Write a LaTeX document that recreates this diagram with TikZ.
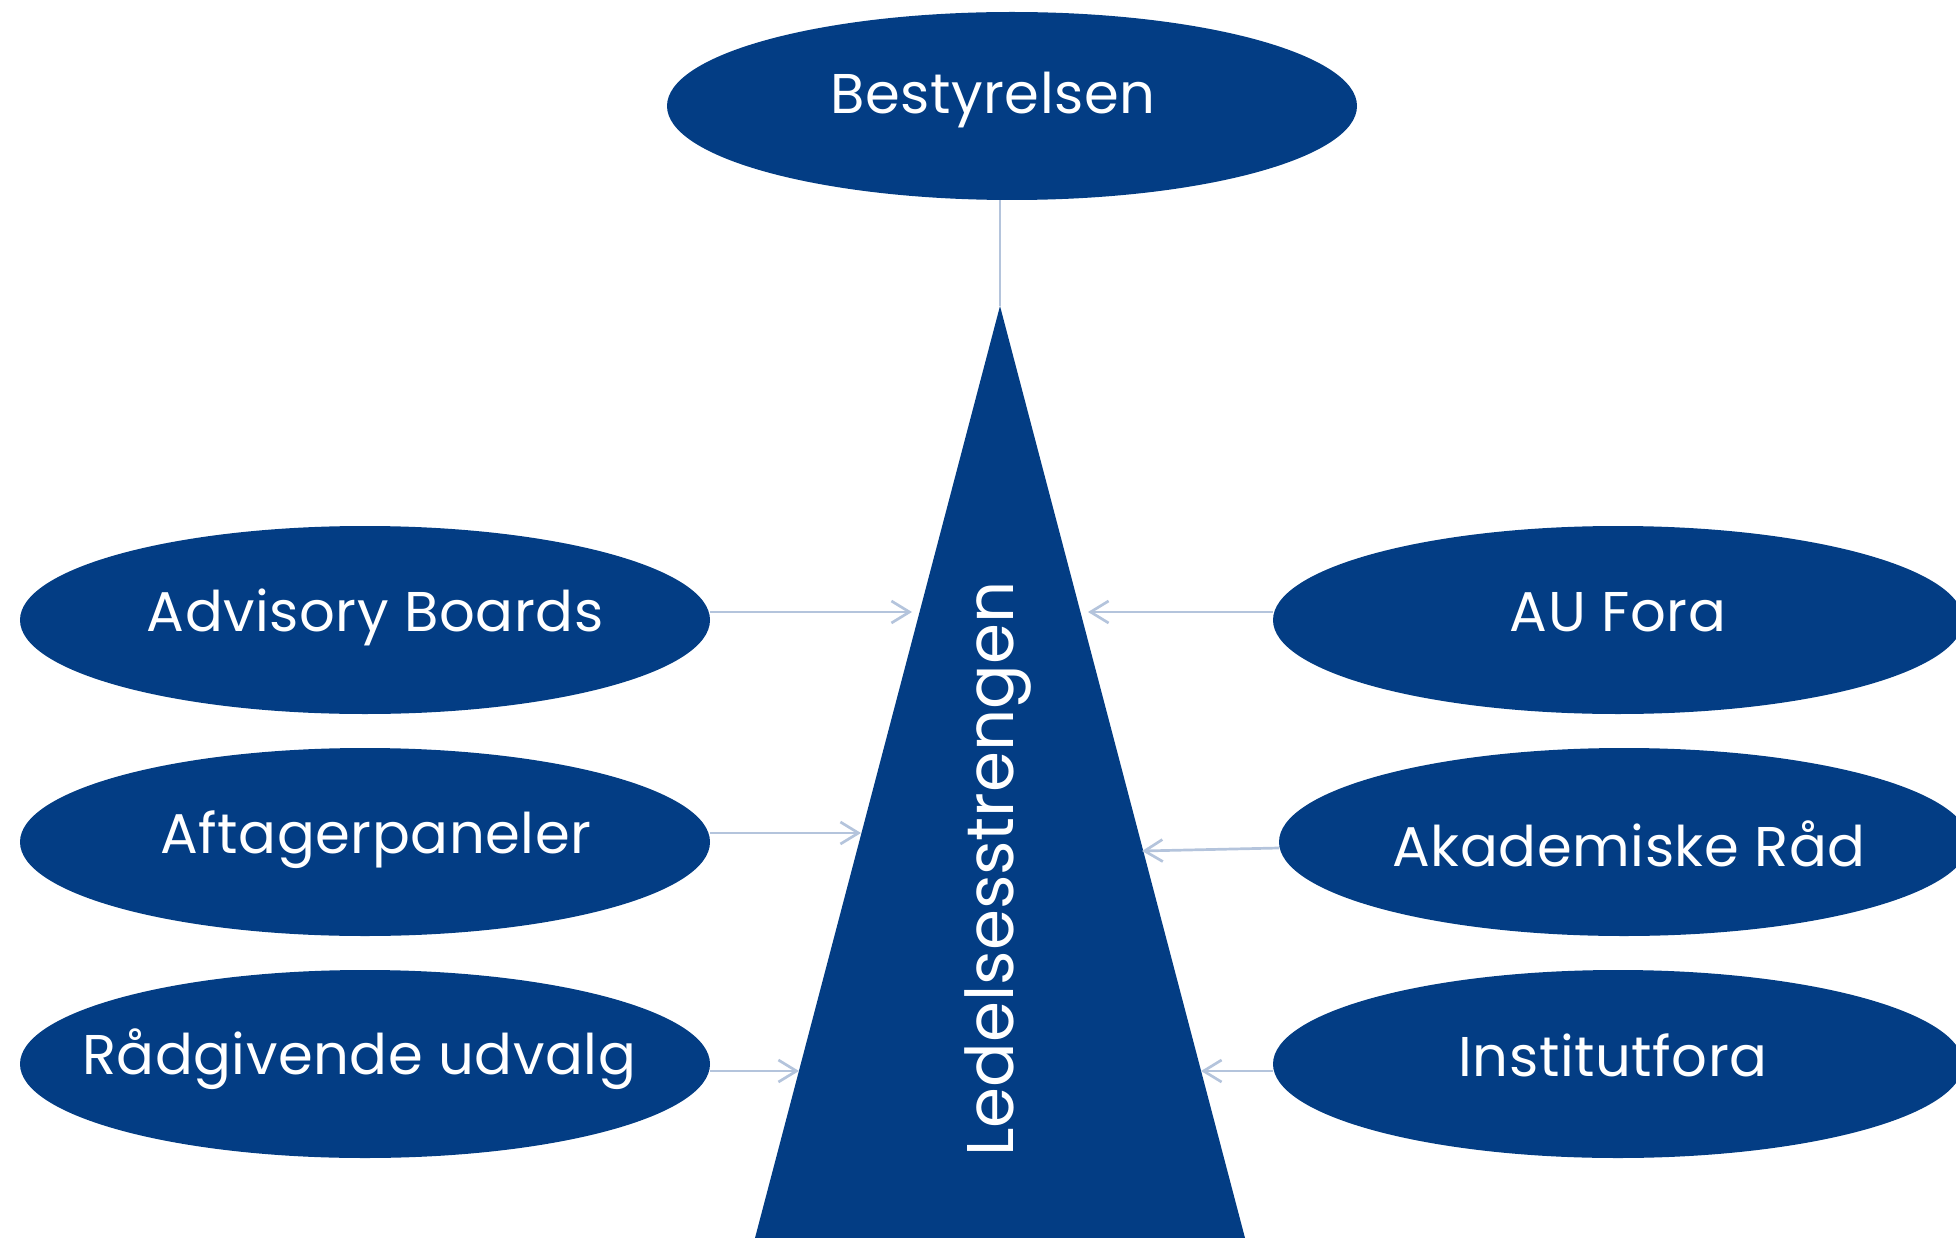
\documentclass[tikz,border=0pt]{standalone}
\usepackage{fontspec}
\setmainfont{Poppins}[LetterSpace=1.0]
\newfontfamily\ledfont{Poppins}
\usetikzlibrary{shapes.geometric,arrows.meta,calc}
\definecolor{aublue}{HTML}{033D84}
\definecolor{conn}{HTML}{B4C4DC}
\newcommand\ctext[3][0pt]{\makebox[0pt]{\kern#1\kern#1\raisebox{#2}{#3}}}
\begin{document}
\begin{tikzpicture}[x=1pt,y=-1pt,
  oval/.style={ellipse,fill=aublue,draw=none,minimum width=690pt,minimum height=188pt,inner sep=0pt,
    text=white,font=\fontsize{56}{60}\selectfont,text height=0.98em,text depth=0.24em},
  connline/.style={draw=conn,line width=2.7pt},
  connarrow/.style={connline,-{Straight Barb[length=18pt,width=22pt,line width=2.7pt]}}]
\useasboundingbox (0,0) rectangle (1956,1238);
% top
\node[oval] (best) at (1012,106) {\ctext[-19pt]{-4pt}{Bestyrelsen}};
% triangle
\coordinate (apex) at (1000,306);
\coordinate (bl) at (755,1238);
\coordinate (br) at (1245,1238);
\fill[aublue] (apex) -- (bl) -- (br) -- cycle;
\node[rotate=90,text=white,font=\ledfont\fontsize{66}{70}\selectfont,inner sep=0pt] (led) at (998,869) {Ledelsesstrengen};
\draw[connline] (apex |- best.south) -- (apex);
% left
\node[oval] (adv) at (365,620) {\ctext[10pt]{-8pt}{Advisory Boards}};
\node[oval] (aft) at (365,842) {\ctext[11pt]{-8pt}{Aftagerpaneler}};
\node[oval] (rad) at (365,1064) {\ctext[-6pt]{-7pt}{Rådgivende udvalg}};
% right
\node[oval] (auf) at (1618,620) {\ctext{-8pt}{AU Fora}};
\node[oval] (aka) at (1624,842) {\ctext[5pt]{-21pt}{Akademiske Råd}};
\node[oval] (ins) at (1618,1064) {\ctext[-5pt]{-9pt}{Institutfora}};
% edge points
\coordinate (eL1) at (912,612);
\coordinate (eL2) at (861,833);
\coordinate (eL3) at (799,1071);
\coordinate (eR1) at (1088,612);
\coordinate (eR2) at (1142,851);
\coordinate (eR3) at (1201,1071);
\draw[connarrow] ($(adv.east)+(0,-8)$) -- (eL1);
\draw[connarrow] ($(aft.east)+(0,-9)$) -- (eL2);
\draw[connarrow] ($(rad.east)+(0,7)$) -- (eL3);
\draw[connarrow] ($(auf.west)+(0,-8)$) -- (eR1);
\draw[connarrow] ($(aka.west)+(0,6)$) -- (eR2);
\draw[connarrow] ($(ins.west)+(0,7)$) -- (eR3);
\end{tikzpicture}
\end{document}
